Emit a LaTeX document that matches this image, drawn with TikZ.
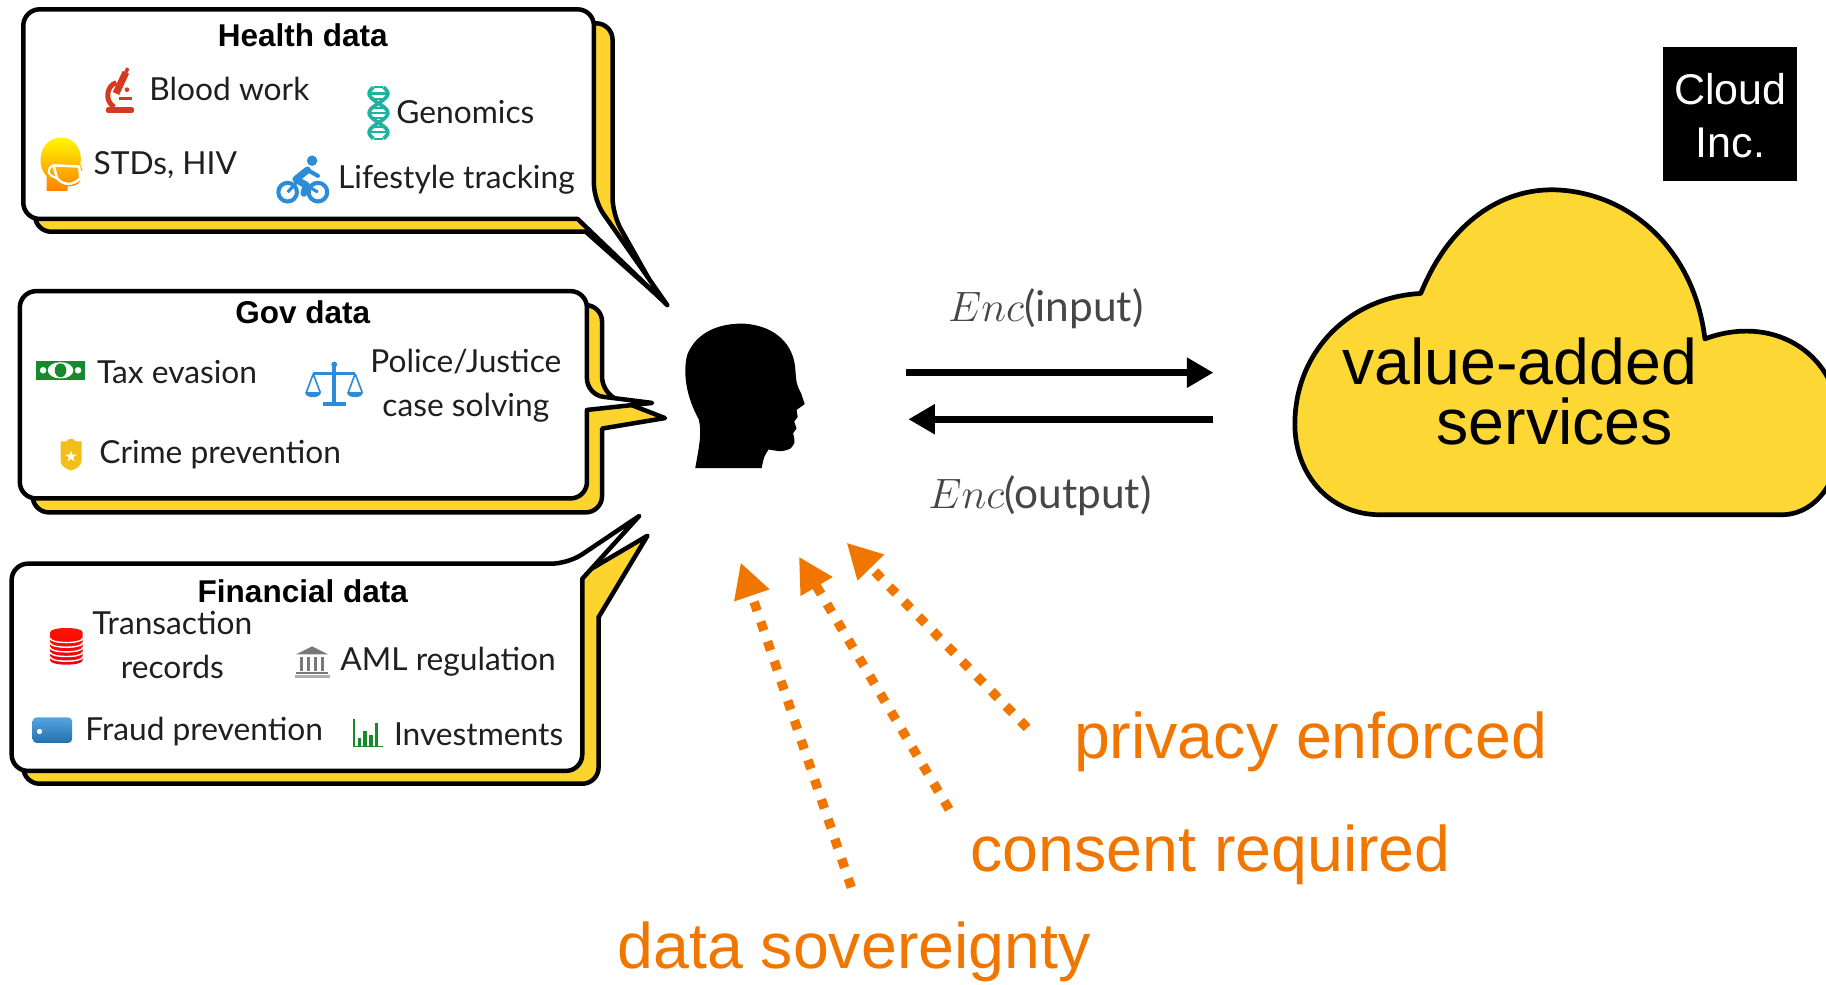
\documentclass[tikz,border=0pt]{standalone}
\usepackage{fontspec}
\setmainfont{Liberation Sans}
\newfontfamily\itemfont{Lato}
\usetikzlibrary{arrows.meta}
\definecolor{shadowyellow}{RGB}{253,212,46}
\definecolor{cloudyellow}{RGB}{253,215,51}
\definecolor{hintorange}{RGB}{240,118,0}
\definecolor{iconred}{RGB}{214,58,30}
\definecolor{iconteal}{RGB}{32,178,160}
\definecolor{iconblue}{RGB}{44,140,216}
\definecolor{icongreen}{RGB}{22,138,44}
\definecolor{icongold}{RGB}{244,190,26}
\definecolor{icongray}{RGB}{120,120,120}
\definecolor{enctext}{RGB}{70,70,70}
\begin{document}
\begin{tikzpicture}[x=0.02cm,y=-0.02cm,
  bubble/.style={fill=white,draw=black,line width=2.2pt,line join=round},
  bshadow/.style={fill=shadowyellow,draw=black,line width=2.2pt,line join=round},
  title/.style={font=\bfseries\fontsize{15.4}{18}\selectfont,anchor=base,inner sep=0pt},
  item/.style={font=\itemfont\fontsize{15.5}{21.5}\selectfont,text=black!88,anchor=base west,inner sep=0pt},
  itemc/.style={font=\itemfont\fontsize{15.5}{21.5}\selectfont,text=black!88,anchor=base,inner sep=0pt},
  hintlabel/.style={font=\fontsize{31.5}{36}\selectfont,text=hintorange,anchor=base west,inner sep=0pt},
  enclabel/.style={font=\fontsize{20.74}{24}\selectfont,text=enctext,anchor=base,inner sep=0pt},
  flow/.style={line width=3.4pt,-{Triangle[length=13pt,width=14pt]}},
  hint/.style={hintorange,line width=4.6pt,dash pattern=on 4.6pt off 5.6pt,-{Triangle[length=17pt,width=17pt]}}]
\useasboundingbox (0,0) rectangle (1568,845);
\clip (0,0) rectangle (1568,845);

% ---------- speech bubbles ----------
\path[bshadow] [rounded corners=8] (30,20) -- (526,20) -- (526,184) [sharp corners] -- (566,255) -- (503,199) [rounded corners=8] -- (30,199) -- cycle;
\path[bubble] [rounded corners=8] (20,8) -- (510,8) -- (510,172) [sharp corners] -- (573,262) -- (496,188) [rounded corners=8] -- (20,188) -- cycle;

\path[bshadow] [rounded corners=8] (28,262) -- (517,262) -- (517,338) [sharp corners] -- (571,359) -- (517,368) [rounded corners=8] -- (517,440) -- (28,440) -- cycle;
\path[bubble] [rounded corners=8] (17,250) -- (504,250) -- (504,339) [sharp corners] -- (560,346) -- (504,352) [rounded corners=8] -- (504,428) -- (17,428) -- cycle;

\path[bshadow] [rounded corners=8] (20,496) -- (495,496) [sharp corners] -- (556,460) -- (514,530) [rounded corners=8] -- (514,673) -- (20,673) -- cycle;
\path[bubble] [rounded corners=8] (10,484) -- (488,484) [sharp corners] -- (549,443) -- (500,497) [rounded corners=8] -- (500,662) -- (10,662) -- cycle;

% ---------- health data ----------
\node[title] (healthT) at (260,40) {Health data};
% microscope
\begin{scope}[shift={(103,79)},iconred]
  \fill[rounded corners=1pt] (-12,13) rectangle (12,18);
  \fill (-1,4) rectangle (10,7);
  \draw[line width=2.4pt] (-5,13) .. controls (-14,7) and (-11,-6) .. (-3,-8);
  \fill[rotate around={-25:(0,-6)}] (-3,-18) rectangle (3,2);
  \fill[rotate around={-25:(0,-6)}] (-1.5,-22) rectangle (1.5,-18);
  \fill (6,-2) circle (2);
\end{scope}
\node[item] (blood) at (128,86) {Blood work};
% DNA helix
\begin{scope}[shift={(325,97)}]
  \draw[iconteal,line width=1.8pt] plot[domain=-22:22,samples=60] ({8*cos(180*\x/16.7)},\x);
  \draw[iconteal,line width=1.8pt] plot[domain=-22:22,samples=60] ({-8*cos(180*\x/16.7)},\x);
  \foreach \yy in {-22,-16.7,-12,-4.5,0,4.5,12,16.7,22}
    \draw[iconteal,line width=1pt] ({-7*abs(cos(180*\yy/16.7))},\yy) -- ({7*abs(cos(180*\yy/16.7))},\yy);
\end{scope}
\node[item] (genom) at (340,106) {Genomics};
% head with mask
\begin{scope}[shift={(52,141)}]
  \shade[top color=yellow!95!orange,bottom color=orange] (-12,23) -- (-12,10) .. controls (-21,2) and (-19,-22) .. (0,-23) .. controls (14,-23) and (19,-10) .. (17,0) -- (19,5) -- (16,7) -- (17,14) .. controls (15,19) and (9,19) .. (6,19) -- (6,23) -- cycle;
  \draw[white,line width=1.2pt,line join=round] (-6,1) -- (16,2) -- (17,12) .. controls (10,19) and (2,18) .. (-3,12) -- cycle;
  \draw[white,line width=1pt] (-6,1) .. controls (-13,4) and (-11,10) .. (-3,12);
\end{scope}
\node[item] (stds) at (80,150) {STDs, HIV};
% cyclist
\begin{scope}[shift={(260,155)},iconblue]
  \draw[line width=2pt] (-13,10) circle (8) (13,10) circle (8);
  \fill (8,-17) circle (4.5);
  \draw[line width=3.4pt,line cap=round,line join=round] (4,-9) -- (-6,-1) -- (3,4) -- (1,11);
  \draw[line width=2pt,line cap=round] (4,-9) -- (13,-4);
  \draw[line width=1.5pt] (-13,10) -- (-4,0) -- (13,10);
\end{scope}
\node[item] (life) at (290,162) {Lifestyle tracking};

% ---------- gov data ----------
\node[title] (govT) at (260,278) {Gov data};
% banknote
\begin{scope}[shift={(52,318)}]
  \fill[icongreen] (-21,-8) rectangle (21,8);
  \fill[white] (0,0) ellipse (11 and 7);
  \fill[icongreen] (0,0) ellipse (5 and 6);
  \fill[white] (-15,0) circle (2.8) (15,0) circle (2.8);
\end{scope}
\node[item] (tax) at (83,329) {Tax evasion};
% scales of justice
\begin{scope}[shift={(287,331)},iconblue]
  \fill (-1.5,-16) rectangle (1.5,15);
  \fill (-10,14) rectangle (10,18);
  \fill (0,-18) circle (2.5);
  \draw[line width=1.6pt] (-18,-10) -- (18,-10);
  \draw[line width=0.8pt] (-18,-10) -- (-24,6) (-18,-10) -- (-12,6) (18,-10) -- (12,6) (18,-10) -- (24,6);
  \fill (-25,6) -- (-11,6) .. controls (-11,12) and (-25,12) .. cycle;
  \fill (11,6) -- (25,6) .. controls (25,12) and (11,12) .. cycle;
\end{scope}
% multi-line nodes: base anchor sits on the last line
\node[itemc,align=center] (police) at (400,358) {Police/Justice\\case solving};
% police badge
\begin{scope}[shift={(61,390)}]
  \fill[icongold] (-9,-11) -- (-4,-11) .. controls (-2,-14) and (2,-14) .. (4,-11) -- (9,-11) -- (9,5) .. controls (9,11) and (3,13) .. (0,14) .. controls (-3,13) and (-9,11) .. (-9,5) -- cycle;
  \fill[white,shift={(0,2)}] (-90:5) -- (-54:2) -- (-18:5) -- (18:2) -- (54:5) -- (90:2) -- (126:5) -- (162:2) -- (198:5) -- (234:2) -- cycle;
\end{scope}
\node[item] (crime) at (85,398) {Crime prevention};

% ---------- financial data ----------
\node[title] (finT) at (260,517) {Financial data};
% record stack
\begin{scope}[shift={(57,555)}]
  \shade[top color=red!85!orange,bottom color=red!70!purple] (-14,-12) -- (-14,12) .. controls (-14,17) and (14,17) .. (14,12) -- (14,-12) .. controls (14,-17) and (-14,-17) .. cycle;
  \foreach \yy in {-7,-3,1,5,9}
    \draw[white,line width=0.7pt] (-14,\yy) .. controls (-14,\yy+5) and (14,\yy+5) .. (14,\yy);
\end{scope}
\node[itemc,align=center] (trans) at (148,583) {Transaction\\records};
% bank building
\begin{scope}[shift={(268,568)},icongray]
  \fill (-14,-6) -- (0,-13) -- (14,-6) -- cycle;
  \foreach \xx in {-10,-4,2,8} \fill (\xx,-4) rectangle (\xx+2.5,8);
  \fill (-14,9) rectangle (14,11);
  \fill[icongray!60] (-15,12) rectangle (15,14);
\end{scope}
\node[item] (aml) at (292,576) {AML regulation};
% payment card
\begin{scope}[shift={(45,627)}]
  \shade[top color=iconblue!80!white,bottom color=iconblue!80!black,rounded corners=2pt] (-17,-11) rectangle (17,11);
  \fill[white] (-12,-1) rectangle (-10,3);
  \fill[white] (-13,0) rectangle (-9,2);
\end{scope}
\node[item] (fraud) at (73,636) {Fraud prevention};
% bar chart
\begin{scope}[shift={(316,630)},icongreen]
  \draw[line width=0.8pt] (-12,-13) -- (-12,11) -- (13,11);
  \fill (-9,11) rectangle (-6,4);
  \fill (-4,11) rectangle (-1,-2);
  \fill (1,11) rectangle (4,1);
  \fill (6,11) rectangle (9,-9);
\end{scope}
\node[item] (invest) at (338,640) {Investments};

% ---------- user ----------
\fill[black] (597,402) .. controls (600,385) and (603,372) .. (600,360)
  .. controls (590,342) and (586,322) .. (590,305)
  .. controls (598,284) and (620,277) .. (640,278)
  .. controls (665,280) and (682,295) .. (683,318)
  .. controls (684,330) .. (688,338) -- (691,347) -- (684,352) -- (685,358)
  -- (682,362) -- (684,368) -- (681,372)
  .. controls (683,380) .. (679,385)
  .. controls (672,388) .. (660,386)
  .. controls (656,392) .. (654,402) -- cycle;
\node[inner sep=0pt] (user) at (638,340) {};

% ---------- encrypted exchange ----------
\coordinate (inA) at (778,320);
\coordinate (inB) at (1042,320);
\coordinate (outA) at (1042,360);
\coordinate (outB) at (780,360);
\draw[flow] (inA) -- (inB);
\draw[flow] (outA) -- (outB);
\node[enclabel] (encin) at (898,276) {$Enc$\itemfont(input)};
\node[enclabel] (encout) at (893,437) {$Enc$\itemfont(output)};

% ---------- cloud ----------
\path[fill=cloudyellow,draw=black,line width=2.3pt,line join=round]
  (1185,442) .. controls (1140,442) and (1110,405) .. (1112,360)
  .. controls (1114,300) and (1160,255) .. (1220,252)
  .. controls (1245,190) and (1290,162) .. (1335,163)
  .. controls (1400,165) and (1455,215) .. (1464,291)
  .. controls (1520,270) and (1575,300) .. (1580,360)
  .. controls (1585,410) and (1560,442) .. (1530,442) -- cycle;
\node[font=\fontsize{31.5}{36}\selectfont,anchor=base,inner sep=0pt] (va) at (1305,330) {value-added};
\node[font=\fontsize{31.5}{36}\selectfont,anchor=base,inner sep=0pt] (svc) at (1335,382) {services};

\fill[black] (1428,40) rectangle (1543,155);
\node[font=\fontsize{21}{26}\selectfont,text=white,anchor=base,inner sep=0pt] (cloudinc1) at (1486,90) {Cloud};
\node[font=\fontsize{21}{26}\selectfont,text=white,anchor=base,inner sep=0pt] (cloudinc2) at (1486,135) {Inc.};

% ---------- guarantees ----------
\coordinate (pA) at (882,625);
\coordinate (pB) at (727,466);
\coordinate (cA) at (815,695);
\coordinate (cB) at (686,478);
\coordinate (sA) at (731,762);
\coordinate (sB) at (636,483);
\draw[hint] (pA) -- (pB);
\draw[hint] (cA) -- (cB);
\draw[hint] (sA) -- (sB);
\node[hintlabel] (priv) at (922,651) {privacy enforced};
\node[hintlabel] (cons) at (833,748) {consent required};
\node[hintlabel] (sov) at (530,832) {data sovereignty};
\end{tikzpicture}
\end{document}
